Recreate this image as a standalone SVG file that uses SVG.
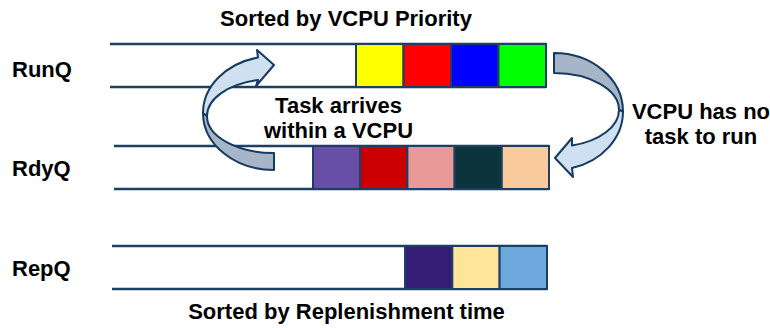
<svg xmlns="http://www.w3.org/2000/svg" width="770" height="328" viewBox="0 0 770 328">
<style>
text{font-family:"Liberation Sans",Arial,sans-serif;font-weight:bold;font-size:22px;fill:#000}
.c{text-anchor:middle}
.q{stroke:#1c3f66;stroke-width:2.5;fill:none}
.cell{stroke:#1c3f66;stroke-width:2}
.back{fill:#a6b6c8;stroke:#173a61;stroke-width:2;stroke-linejoin:round}
.front{fill:#cfe0f1;stroke:#173a61;stroke-width:2;stroke-linejoin:round}
</style>
<rect width="770" height="328" fill="#fff"/>
<text class="c" x="346" y="26">Sorted by VCPU Priority</text>
<text class="c" x="346.5" y="319">Sorted by Replenishment time</text>
<g id="runq">
<text x="12" y="77">RunQ</text>
<path class="q" d="M110,44H546M110,87H546"/>
<rect class="cell" x="356" y="44" width="47.5" height="43" fill="#ffff00"/>
<rect class="cell" x="403.5" y="44" width="47.5" height="43" fill="#ff0000"/>
<rect class="cell" x="451" y="44" width="47.5" height="43" fill="#0000ff"/>
<rect class="cell" x="498.5" y="44" width="47.5" height="43" fill="#00ff00"/>
</g>
<g id="rdyq">
<text x="12" y="176">RdyQ</text>
<path class="q" d="M114,146H549M114,189H549"/>
<rect class="cell" x="313" y="146" width="47.2" height="43" fill="#674ea7"/>
<rect class="cell" x="360.2" y="146" width="47.2" height="43" fill="#cc0000"/>
<rect class="cell" x="407.4" y="146" width="47.2" height="43" fill="#ea9999"/>
<rect class="cell" x="454.6" y="146" width="47.2" height="43" fill="#0c343d"/>
<rect class="cell" x="501.8" y="146" width="47.2" height="43" fill="#f9cb9c"/>
</g>
<g id="repq">
<text x="12" y="276">RepQ</text>
<path class="q" d="M112,246H547M112,289H547"/>
<rect class="cell" x="405" y="246" width="47.3" height="43" fill="#351c75"/>
<rect class="cell" x="452.3" y="246" width="47.3" height="43" fill="#ffe599"/>
<rect class="cell" x="499.6" y="246" width="47.4" height="43" fill="#6fa8dc"/>
</g>
<g id="connectors">
<g id="arrow-task-arrives">
<path class="back" d="M203,113 A71,57 0 0 0 274,170 L274,153 A67,37 0 0 1 207,116 Z"/>
<path class="front" d="M203,113 A71,57 0 0 1 258,57.5 L257,50 L274,65 L256,86 L258,80 A67,37 0 0 0 207,116 Z"/>
</g>
<g id="arrow-no-task">
<path class="back" d="M554,53 A69,58.5 0 0 1 623,111.5 L619,110 A65,37 0 0 0 554,73 Z"/>
<path class="front" d="M623,111.5 A69,58.5 0 0 1 572,168 L573,177 L555,158 L572,138 L572,145.6 A65,37 0 0 0 619,110 Z"/>
</g>
</g>
<text class="c" x="338.5" y="113">Task arrives</text>
<text class="c" x="338.5" y="138">within a VCPU</text>
<text class="c" x="701" y="119">VCPU has no</text>
<text class="c" x="701" y="144">task to run</text>
</svg>
